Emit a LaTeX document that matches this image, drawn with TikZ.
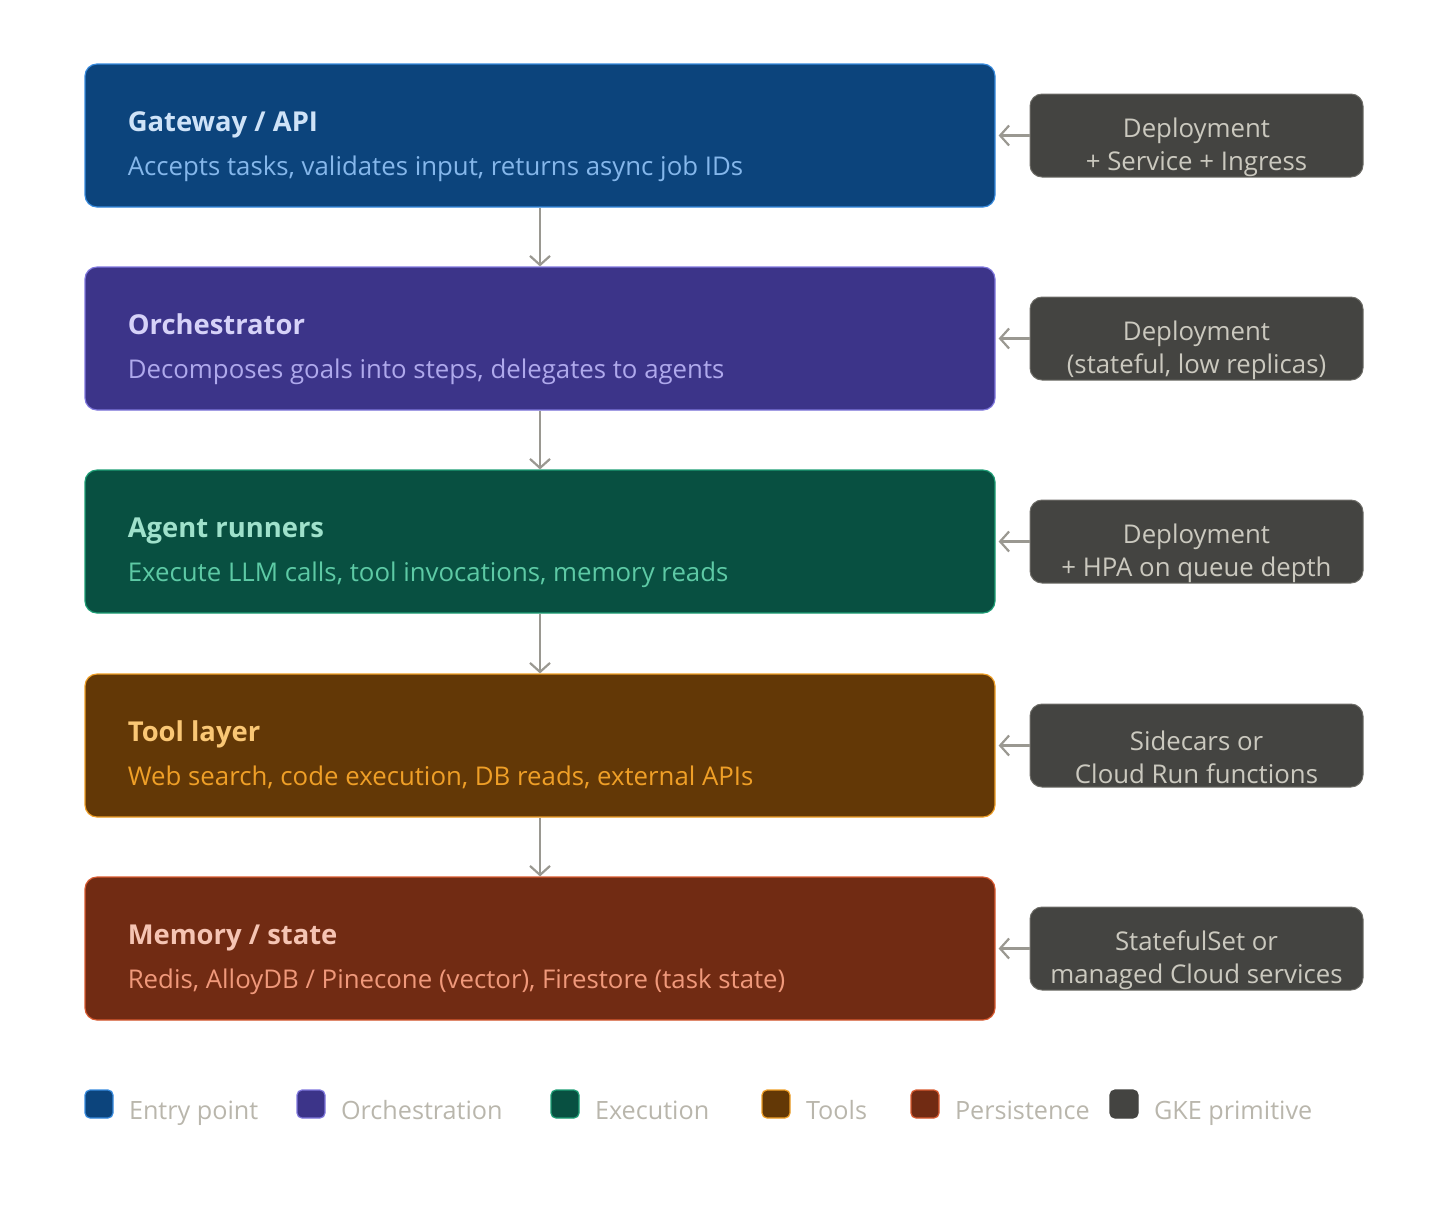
\documentclass[tikz,border=0pt]{standalone}
\usepackage{fontspec}
\setmainfont{Open Sans}
\usetikzlibrary{arrows.meta,positioning,calc}

\definecolor{gwfill}{HTML}{0C447C}  \definecolor{gwline}{HTML}{378ADD}
\definecolor{gwhead}{HTML}{CFE3F8}  \definecolor{gwsub}{HTML}{85B7EB}
\definecolor{orfill}{HTML}{3C3489}  \definecolor{orline}{HTML}{7F77DD}
\definecolor{orhead}{HTML}{D6D2F8}  \definecolor{orsub}{HTML}{AFA9EC}
\definecolor{agfill}{HTML}{085041}  \definecolor{agline}{HTML}{1D9E75}
\definecolor{aghead}{HTML}{9FE1CB}  \definecolor{agsub}{HTML}{5DCAA5}
\definecolor{tlfill}{HTML}{633806}  \definecolor{tlline}{HTML}{EF9F27}
\definecolor{tlhead}{HTML}{FAC775}  \definecolor{tlsub}{HTML}{EF9F27}
\definecolor{mmfill}{HTML}{712B13}  \definecolor{mmline}{HTML}{D85A30}
\definecolor{mmhead}{HTML}{F5C4B3}  \definecolor{mmsub}{HTML}{F0997B}
\definecolor{gkfill}{HTML}{444441}  \definecolor{gkline}{HTML}{6E6D68}
\definecolor{gktext}{HTML}{CBC9BF}
\definecolor{wire}{HTML}{9A9891}
\definecolor{legtext}{HTML}{B9B6AC}

\begin{document}
\begin{tikzpicture}[
  x=0.5pt, y=-0.5pt,
  >={Straight Barb[length=4.5pt,width=10pt,line width=1.1pt]},
  layer/.style 2 args={draw=#2,fill=#1,rounded corners=6pt,line width=0.6pt,
                       minimum width=455pt,minimum height=71.5pt,inner sep=0pt},
  gke/.style={draw=gkline,fill=gkfill,rounded corners=6pt,line width=0.5pt,
              minimum width=166.5pt,minimum height=41.5pt,inner sep=0pt},
  head/.style={anchor=base west,inner sep=0pt,text=#1,font=\fontsize{13.7}{16}\selectfont\bfseries},
  sub/.style={anchor=base west,inner sep=0pt,text=#1,font=\fontsize{12.9}{15}\selectfont},
  gtxt/.style={align=center,inner sep=0pt,text=gktext,font=\fontsize{12.9}{16.5}\selectfont},
  key/.style={draw=#1,line width=0.6pt,rounded corners=2.5pt,minimum size=14pt,inner sep=0pt},
  keytxt/.style={anchor=base west,inner sep=0pt,text=legtext,font=\fontsize{12.6}{15}\selectfont},
  flow/.style={->,draw=wire,line width=1.1pt},
]
\useasboundingbox (0,0) rectangle (1440,1228);

% --- layer stack ---
\node[layer={gwfill}{gwline}] (gw)  at (540,135.5) {};
\node[layer={orfill}{orline}] (orc) at (540,338.5) {};
\node[layer={agfill}{agline}] (agt) at (540,541.5) {};
\node[layer={tlfill}{tlline}] (tool) at (540,745.5) {};
\node[layer={mmfill}{mmline}] (mem) at (540,948.5) {};

\node[head=gwhead] at ($(gw.north west)+(43,68)$)   {Gateway / API};
\node[sub=gwsub]   at ($(gw.north west)+(43,112)$)  {Accepts tasks, validates input, returns async job IDs};
\node[head=orhead] at ($(orc.north west)+(43,68)$)  {Orchestrator};
\node[sub=orsub]   at ($(orc.north west)+(43,112)$) {Decomposes goals into steps, delegates to agents};
\node[head=aghead] at ($(agt.north west)+(43,68)$)  {Agent runners};
\node[sub=agsub]   at ($(agt.north west)+(43,112)$) {Execute LLM calls, tool invocations, memory reads};
\node[head=tlhead] at ($(tool.north west)+(43,68)$) {Tool layer};
\node[sub=tlsub]   at ($(tool.north west)+(43,112)$) {Web search, code execution, DB reads, external APIs};
\node[head=mmhead] at ($(mem.north west)+(43,68)$)  {Memory / state};
\node[sub=mmsub]   at ($(mem.north west)+(43,112)$) {Redis, AlloyDB / Pinecone (vector), Firestore (task state)};

% --- GKE primitives on the right ---
\node[gke] (k1) at (1196.5,135.5) {};
\node[gke] (k2) at (1196.5,338.5) {};
\node[gke] (k3) at (1196.5,541.5) {};
\node[gke] (k4) at (1196.5,745.5) {};
\node[gke] (k5) at (1196.5,948.5) {};
\node[gtxt] at ($(k1)+(0,12)$) {Deployment\\+ Service + Ingress};
\node[gtxt] at ($(k2)+(0,12)$) {Deployment\\(stateful, low replicas)};
\node[gtxt] at ($(k3)+(0,12)$) {Deployment\\+ HPA on queue depth};
\node[gtxt] at ($(k4)+(0,12)$) {Sidecars or\\Cloud Run functions};
\node[gtxt] at ($(k5)+(0,12)$) {StatefulSet or\\managed Cloud services};

% --- request path down the stack ---
\draw[flow] (gw)   -- (orc);
\draw[flow] (orc)  -- (agt);
\draw[flow] (agt)  -- (tool);
\draw[flow] (tool) -- (mem);

% --- each layer runs on a primitive ---
\draw[flow,shorten >=1.5pt] (k1) -- (gw);
\draw[flow,shorten >=1.5pt] (k2) -- (orc);
\draw[flow,shorten >=1.5pt] (k3) -- (agt);
\draw[flow,shorten >=1.5pt] (k4) -- (tool);
\draw[flow,shorten >=1.5pt] (k5) -- (mem);

% --- legend ---
\node[key=gwline,fill=gwfill] (l1) at (99,1104) {};
\node[key=orline,fill=orfill] (l2) at (311,1104) {};
\node[key=agline,fill=agfill] (l3) at (565,1104) {};
\node[key=tlline,fill=tlfill] (l4) at (776,1104) {};
\node[key=mmline,fill=mmfill] (l5) at (925,1104) {};
\node[key=gkfill,fill=gkfill] (l6) at (1124,1104) {};
\node[keytxt] at ($(l1.east)+(15,15)$) {Entry point};
\node[keytxt] at ($(l2.east)+(15,15)$) {Orchestration};
\node[keytxt] at ($(l3.east)+(15,15)$) {Execution};
\node[keytxt] at ($(l4.east)+(15,15)$) {Tools};
\node[keytxt] at ($(l5.east)+(15,15)$) {Persistence};
\node[keytxt] at ($(l6.east)+(15,15)$) {GKE primitive};
\end{tikzpicture}
\end{document}
